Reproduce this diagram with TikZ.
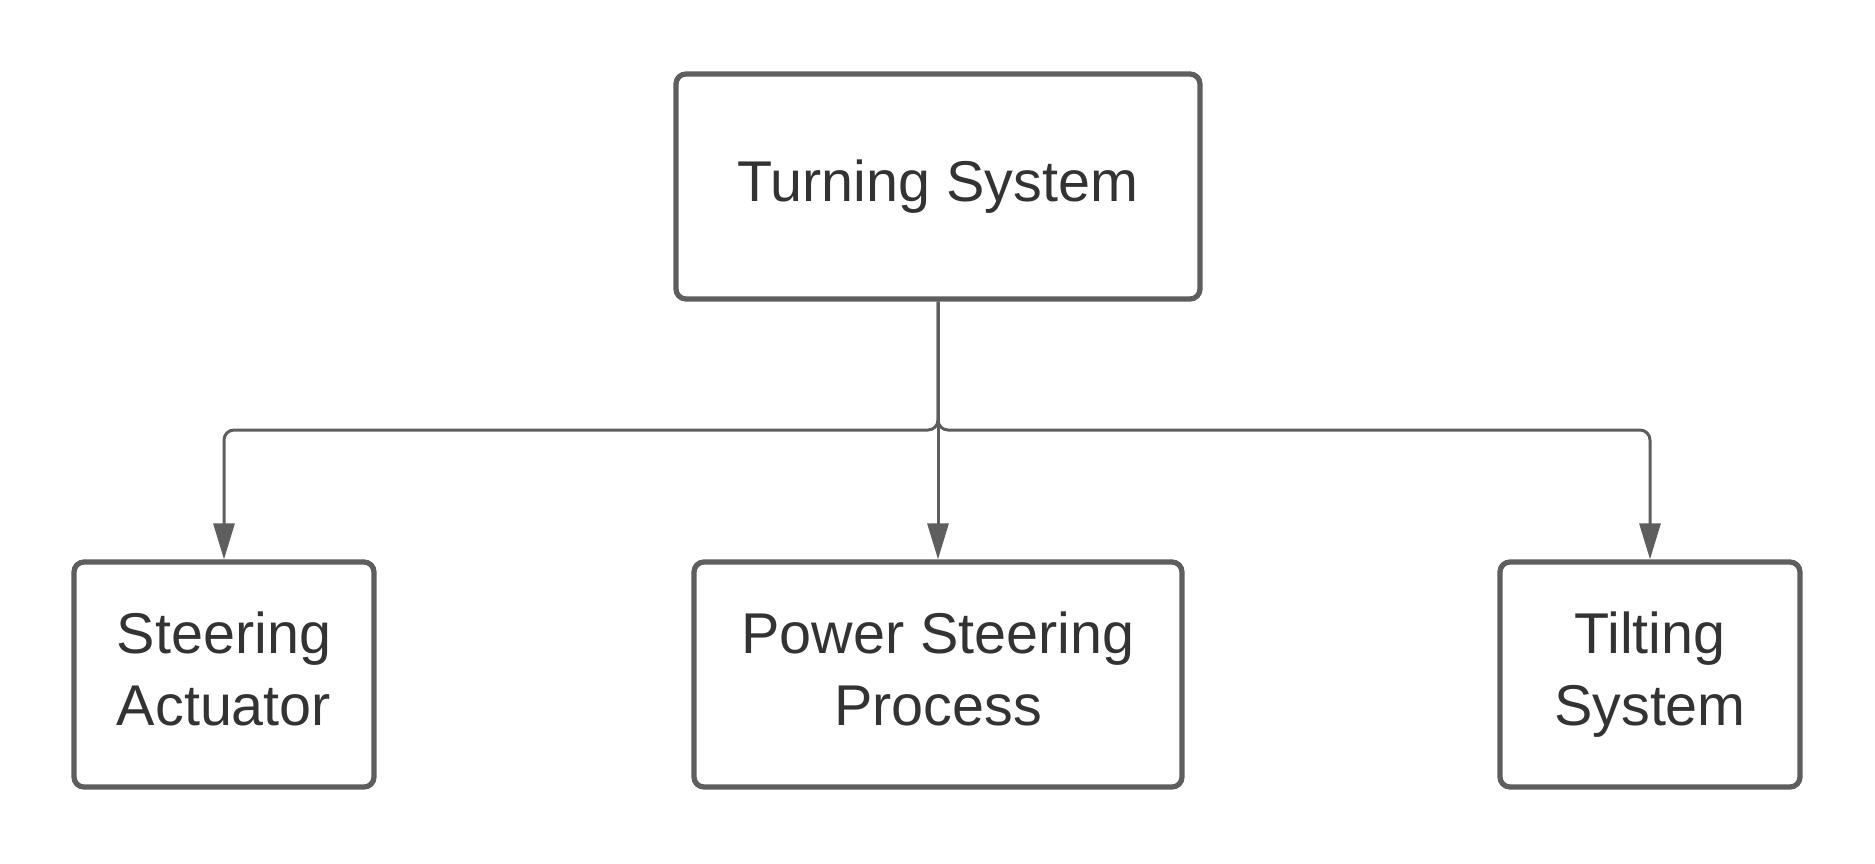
\documentclass[tikz,border=0pt]{standalone}
\usepackage{fontspec}
\setmainfont{Liberation Sans}
\usetikzlibrary{arrows.meta}
\definecolor{linegray}{HTML}{5E5E5E}
\definecolor{textgray}{HTML}{333333}
\begin{document}
\begin{tikzpicture}[x=0.4pt,y=-0.4pt,
        every node/.style={font=\fontsize{23}{28.7}\selectfont, text=textgray, align=center},
        block/.style={draw=linegray, line width=2.1pt, rounded corners=4pt, minimum height=90pt,
            execute at end node=\vphantom{g}},
        link/.style={draw=linegray, line width=1.2pt, rounded corners=4pt, -{Triangle[length=14.4pt,width=8.4pt]}}]
        \useasboundingbox (0,0) rectangle (1875,863);
        \node[block, minimum width=209.6pt] (turn) at (938,186.5) {Turning System};
        \node[block, minimum width=120pt] (steer) at (224,674.5) {Steering\\Actuator};
        \node[block, minimum width=195.2pt] (power) at (938,674.5) {Power Steering\\Process};
        \node[block, minimum width=120pt] (tilt) at (1650,674.5) {Tilting\\System};
        \coordinate (split) at (938,430);
        \draw[link] (turn.south) -- (split) -| (steer.north);
        \draw[link] (turn.south) -- (power.north);
        \draw[link] (turn.south) -- (split) -| (tilt.north);
    \end{tikzpicture}
\end{document}
